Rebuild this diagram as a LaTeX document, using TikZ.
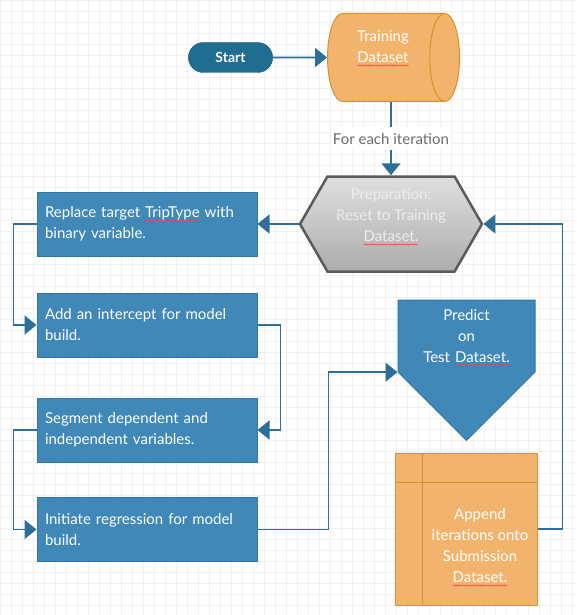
\documentclass[tikz,border=0pt]{standalone}
\usepackage{fontspec}
\setmainfont{Lato}
\usetikzlibrary{arrows.meta,shapes.geometric,shapes.symbols,shapes.misc,decorations.pathmorphing}

\definecolor{taskblue}{HTML}{3F88B8}
\definecolor{taskedge}{HTML}{2F77A8}
\definecolor{startblue}{HTML}{1F6E92}
\definecolor{flowblue}{HTML}{2E6F9A}
\definecolor{storefill}{HTML}{F2B46C}
\definecolor{storeedge}{HTML}{D8902F}
\definecolor{prepedge}{HTML}{5B5B5B}
\definecolor{labelgray}{HTML}{6B6B6B}
\definecolor{gridgray}{HTML}{F0F0F0}

% red spell-check squiggle under a word
\newlength\typowd
\newcommand\typo[1]{\settowidth\typowd{#1}\tikz[overlay,baseline=0pt]\draw[red!75, line width=.5pt,
    decorate, decoration={snake,amplitude=.6pt,segment length=2.4pt}] (0pt,-2.5pt) -- (\typowd,-2.5pt);#1}

\begin{document}
\begin{tikzpicture}
    [ x=1pt, y=-1pt
    , every node/.style={font=\fontsize{15}{21}\selectfont}
    , task/.style={draw=taskedge, line width=1pt, fill=taskblue, text=white, rectangle,
        minimum width=220pt, minimum height=64pt, text width=204pt, align=left, inner xsep=8pt}
    , pill/.style={draw=startblue!80!black, fill=startblue, text=white, rounded rectangle,
        minimum width=91pt, minimum height=30pt, font=\fontsize{14}{16}\selectfont\bfseries}
    , store/.style={draw=storeedge, line width=1pt, fill=storefill, text=white, align=center}
    , prep/.style={draw=prepedge, line width=2.5pt, top color=gray!25, bottom color=gray!65,
        text=white!93!black, align=center}
    , flow/.style={draw=flowblue, line width=1.8pt, -{Triangle[length=12pt,width=19pt]}}
    ]
    \fill[white] (0,0) rectangle (576,615);
    \useasboundingbox (0,0) rectangle (576,615);
    \draw[gridgray, line width=.6pt, step=11pt] (0,615) grid (576,0);

    \node[pill] (start) at (230.5,57.5) {Start};
    \node[store, cylinder, shape aspect=.5, minimum width=88pt, minimum height=132pt,
        text depth=21pt] (training) at (383,57.5) {Training\\\typo{Dataset}};
    \node[prep, signal, signal to=west and east, signal pointer angle=120,
        minimum width=182pt, minimum height=95pt, text depth=17pt] (prep) at (391,224)
        {Preparation:\\Reset to Training\\\typo{Dataset.}};

    \node[task] (replace)  at (147,224)   {Replace target \typo{TripType} with\\binary variable.};
    \node[task] (add)      at (147,325)   {Add an intercept for model\\build.};
    \node[task, text depth=24pt] (segment) at (147,430) {Segment dependent and\\independent variables.};
    \node[task] (initiate) at (147,529.5) {Initiate regression for model\\build.};

    \node[task, signal, signal to=south, signal pointer angle=90, text width=120pt, align=center,
        minimum width=137pt, minimum height=140pt] (predict) at (466.5,336)
        {Predict\\on\\Test \typo{Dataset.}};
    \node[store, rectangle, minimum width=142pt, minimum height=152pt,
        label={[text=white, align=center, xshift=14pt, yshift=-17pt]center:Append\\iterations onto\\Submission\\\typo{Dataset.}}]
        (append) at (466,529) {};
    \draw[storeedge, line width=1pt]
        ([xshift=28pt]append.north west) -- ([xshift=28pt]append.south west)
        ([yshift=-30pt]append.north west) -- ([yshift=-30pt]append.north east);

    \draw[flow] (start) -- (start -| training.west);
    \draw[flow] (prep.north |- training.south) -- node[fill=white, text=labelgray, inner ysep=6pt, inner xsep=2pt]
        {For each iteration} (prep.north);
    \draw[flow] (prep.west) -- (replace.east);
    \draw[flow] (replace.west) -- ++(-23,0) |- (add.west);
    \draw[flow] (add.east) -- ++(23,0) |- (segment.east);
    \draw[flow] (segment.west) -- ++(-23,0) |- (initiate.west);
    \draw[flow] (initiate.east) -- ++(71,0) |- (predict.south west);
    \draw[flow] (append.east) -- ++(25,0) |- (prep.east);
\end{tikzpicture}
\end{document}
